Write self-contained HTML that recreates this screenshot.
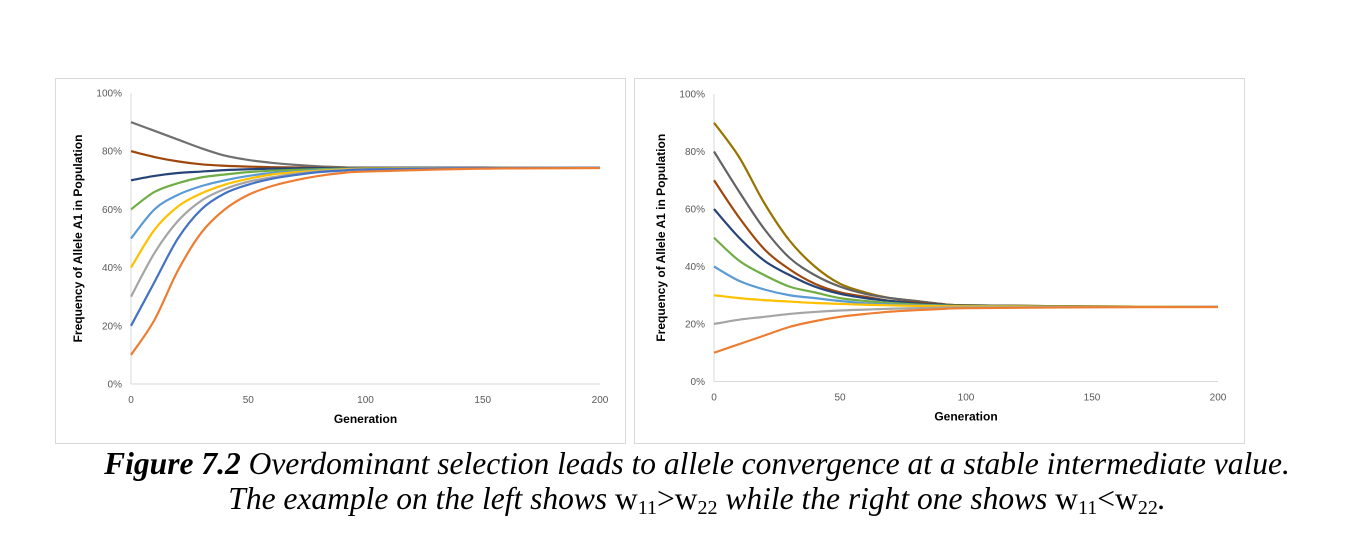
<!DOCTYPE html>
<html><head><meta charset="utf-8">
<style>
body{margin:0;background:#fff;width:1368px;height:548px;overflow:hidden;position:relative;font-family:"Liberation Sans",sans-serif}
.cap{position:absolute;left:0;width:1394px;text-align:center;font-family:"Liberation Serif",serif;font-style:italic;font-size:31.5px;line-height:36px;color:#000;white-space:nowrap}
.cap .n{font-style:normal}
.cap sub{font-size:20px;vertical-align:-5px;line-height:0}
</style></head><body>
<svg id="chart" width="1368" height="548" style="position:absolute;left:0;top:0"></svg>
<div class="cap" style="top:446px"><b>Figure 7.2</b> Overdominant selection leads to allele convergence at a stable intermediate value.</div>
<div class="cap" style="top:481px">The example on the left shows <span class="n">w<sub>11</sub>&gt;w<sub>22</sub></span> while the right one shows <span class="n">w<sub>11</sub>&lt;w<sub>22</sub></span>.</div>
<script>
const generations=[0,10,20,30,40,50,60,70,80,90,100,150,200];
const xTicks=[0,50,100,150,200];
const yTicks=[0,0.2,0.4,0.6,0.8,1.0];
const yTickLabels=["0%","20%","40%","60%","80%","100%"];
const leftColors=["#707070","#9e480e","#264478","#70ad47","#5b9bd5","#ffc000","#a5a5a5","#4472c4","#ed7d31"];
const leftSeries=[
[.90,.87,.84,.81,.785,.77,.76,.753,.748,.745,.743,.743,.743],
[.80,.78,.765,.755,.75,.747,.745,.744,.743,.743,.743,.743,.743],
[.70,.715,.725,.73,.735,.738,.74,.741,.742,.742,.743,.743,.743],
[.60,.66,.69,.71,.72,.728,.733,.736,.738,.74,.741,.742,.743],
[.50,.60,.65,.68,.70,.715,.725,.73,.735,.738,.74,.742,.743],
[.40,.53,.61,.655,.685,.705,.72,.728,.733,.737,.74,.742,.743],
[.30,.45,.56,.63,.67,.695,.71,.722,.73,.735,.738,.742,.743],
[.20,.35,.50,.60,.655,.685,.705,.718,.728,.733,.737,.742,.743],
[.10,.22,.39,.52,.60,.65,.68,.70,.715,.725,.73,.740,.742]];
const rightColors=["#997300","#636363","#9e480e","#264478","#70ad47","#5b9bd5","#ffc000","#a5a5a5","#ed7d31"];
const rightSeries=[
[.90,.78,.62,.49,.40,.34,.31,.29,.28,.27,.265,.261,.26],
[.80,.66,.53,.43,.37,.33,.305,.29,.28,.27,.265,.261,.26],
[.70,.57,.46,.39,.34,.31,.295,.28,.275,.268,.265,.261,.26],
[.60,.50,.42,.37,.33,.305,.29,.28,.272,.267,.264,.261,.26],
[.50,.42,.37,.33,.31,.29,.28,.273,.268,.265,.263,.261,.26],
[.40,.35,.32,.30,.29,.28,.272,.268,.265,.263,.262,.26,.26],
[.30,.29,.283,.278,.273,.27,.267,.265,.263,.262,.261,.26,.26],
[.20,.215,.225,.235,.242,.247,.25,.253,.255,.257,.258,.259,.26],
[.10,.13,.16,.19,.21,.225,.235,.243,.248,.252,.255,.258,.259]];
const NS="http://www.w3.org/2000/svg";
const svg=document.getElementById('chart');
function mk(tag,attrs,parent){const e=document.createElementNS(NS,tag);for(const k in attrs)e.setAttribute(k,attrs[k]);(parent||svg).appendChild(e);return e;}
function drawChart(id,box,pl,series,colors){
  const g=mk('g',{});
  
  
  const fr=mk('rect',{x:box[0]+.5,y:box[1]+.5,width:box[2],height:box[3],fill:'#fff',stroke:'#d9d9d9'},g);
  
  
  const X=v=>pl.x0+(pl.x1-pl.x0)*v/200, Y=v=>pl.y0+(pl.y1-pl.y0)*v;
  const ax=mk('line',{x1:pl.x0,y1:pl.y0,x2:pl.x0,y2:pl.y1,stroke:'#d9d9d9'},g);
  
  
  const bx=mk('line',{x1:pl.x0,y1:pl.y0,x2:pl.x1,y2:pl.y0,stroke:'#d9d9d9'},g);
  
  
  yTicks.forEach((t,i)=>{const e=mk('text',{x:pl.x0-9,y:Y(t)+3.5,'text-anchor':'end','font-size':'10',fill:'#595959'},g);e.textContent=yTickLabels[i];
    
    });
  xTicks.forEach(t=>{const e=mk('text',{x:X(t),y:pl.y0+19,'text-anchor':'middle','font-size':'10',fill:'#595959'},g);e.textContent=t;
    
    });
  const xt=mk('text',{x:(pl.x0+pl.x1)/2,y:pl.y0+39,'text-anchor':'middle','font-size':'12','font-weight':'bold',fill:'#000'},g);xt.textContent='Generation';
  
  
  const cy=(pl.y0+pl.y1)/2, cx=pl.x0-49;
  const yt=mk('text',{x:cx,y:cy,transform:`rotate(-90 ${cx} ${cy})`,'text-anchor':'middle','font-size':'12','font-weight':'bold',fill:'#000'},g);yt.textContent='Frequency of Allele A1 in Population';
  
  
  series.forEach((s,si)=>{
    const P=s.map((v,i)=>[X(generations[i]),Y(v)]);
    let d=`M${P[0][0]},${P[0][1]}`;
    for(let i=0;i<P.length-1;i++){const p0=P[i-1]||P[i],p1=P[i],p2=P[i+1],p3=P[i+2]||P[i+1];
      const c1=[p1[0]+(p2[0]-p0[0])/6,p1[1]+(p2[1]-p0[1])/6],c2=[p2[0]-(p3[0]-p1[0])/6,p2[1]-(p3[1]-p1[1])/6];
      d+=`C${c1[0]},${c1[1]} ${c2[0]},${c2[1]} ${p2[0]},${p2[1]}`;}
    const p=mk('path',{d,fill:'none',stroke:colors[si],'stroke-width':'2.2'},g);
    
    
  });
}
drawChart('left-chart',[55,78,570,365],{x0:131,x1:600,y0:384,y1:93},leftSeries,leftColors);
drawChart('right-chart',[634,78,610,365],{x0:714,x1:1218,y0:381.5,y1:94},rightSeries,rightColors);
</script>
</body></html>
